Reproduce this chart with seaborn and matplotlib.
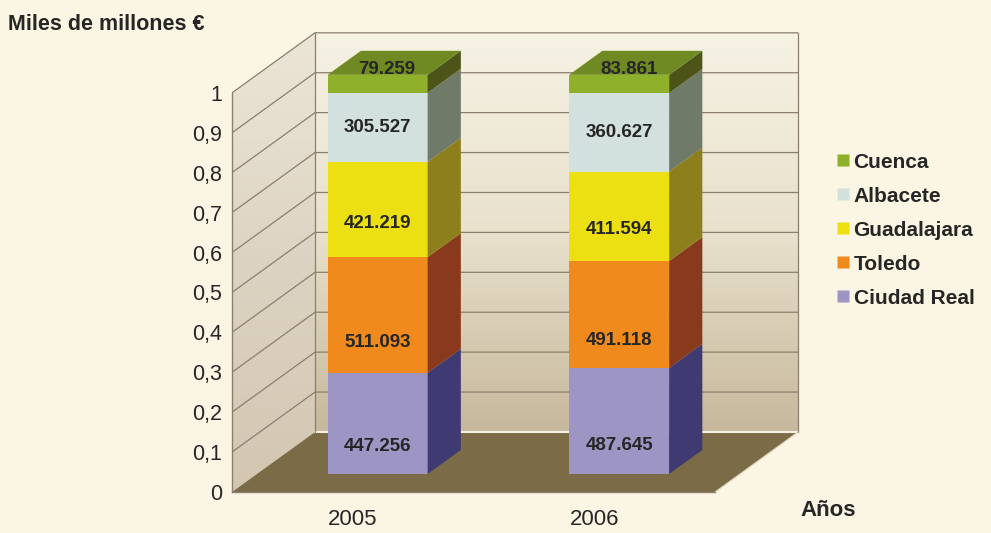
import numpy as np
import pandas as pd
import matplotlib.pyplot as plt
import seaborn as sns
from matplotlib.patches import Polygon
from matplotlib.lines import Line2D

# DATOS
anios = ['2005', '2006']
provincias = ['Ciudad Real', 'Toledo', 'Guadalajara', 'Albacete', 'Cuenca']
ciudad_real = [447.256, 487.645]
toledo = [511.093, 491.118]
guadalajara = [421.219, 411.594]
albacete = [305.527, 360.627]
cuenca = [79.259, 83.861]
etiquetas = ['447.256', '487.645', '511.093', '491.118', '421.219', '411.594',
             '305.527', '360.627', '79.259', '83.861']
y_ticks = [0, 0.1, 0.2, 0.3, 0.4, 0.5, 0.6, 0.7, 0.8, 0.9, 1]
y_labels = ['0', '0,1', '0,2', '0,3', '0,4', '0,5', '0,6', '0,7', '0,8', '0,9', '1']

# Colores (frente, lateral, tapa)
frente = {'Ciudad Real': '#9d95c4', 'Toledo': '#f08a1c', 'Guadalajara': '#ede012',
          'Albacete': '#d2e1dd', 'Cuenca': '#8fb02a'}
lateral = {'Ciudad Real': '#3f3a72', 'Toledo': '#8a3a1c', 'Guadalajara': '#8d7f1c',
           'Albacete': '#6f7a68', 'Cuenca': '#4c5418'}
tapa = '#6f8a22'
fondo = '#fbf6e3'
# posición del texto dentro de cada tramo
pos_texto = {'Ciudad Real': 0.27, 'Toledo': 0.26, 'Guadalajara': 0.35, 'Albacete': 0.5}

valores = {'Ciudad Real': ciudad_real, 'Toledo': toledo, 'Guadalajara': guadalajara,
           'Albacete': albacete, 'Cuenca': cuenca}
filas = []
for p in provincias:
    for a, v in zip(anios, valores[p]):
        filas.append({'anio': a, 'provincia': p, 'valor': v})
df = pd.DataFrame(filas)
df['cuota'] = df['valor'] / df.groupby('anio')['valor'].transform('sum')
df['base'] = df.groupby('anio')['cuota'].cumsum() - df['cuota']
df['etiqueta'] = [etiquetas[provincias.index(p) * 2 + anios.index(a)]
                  for p, a in zip(df['provincia'], df['anio'])]

# Style
sns.set_style('white')
plt.rcParams['font.family'] = ['Liberation Sans', 'DejaVu Sans']
texto = '#262626'

fig = plt.figure(figsize=(9.91, 5.33), dpi=100, facecolor=fondo)
ax = fig.add_axes([232 / 991, 41 / 533, 603.75 / 991, 479 / 533])
ax.set_facecolor('none')

# profundidad del "3D"
DX, DY = 83 / 241.5, 60 / 399
x0, x1 = -0.5, 1.5

# Pared del fondo con degradado
grad = np.linspace(0, 1, 256).reshape(-1, 1)
ax.imshow(grad, extent=[x0 + DX, x1 + DX, DY, 1 + DY], origin='lower', aspect='auto',
          cmap=sns.blend_palette(['#c6b89c', '#e9e1cc', '#f6f2e4'], as_cmap=True), zorder=0)
# Pared lateral
pared = Polygon([(x0, 0), (x0, 1), (x0 + DX, 1 + DY), (x0 + DX, DY)], closed=True,
                facecolor='none', edgecolor='none')
ax.add_patch(pared)
img = ax.imshow(grad, extent=[x0, x0 + DX, 0, 1 + DY], origin='lower', aspect='auto',
                cmap=sns.blend_palette(['#d3c7b2', '#ddd3c2', '#ece6d8'], as_cmap=True), zorder=0)
img.set_clip_path(pared)
# Suelo
ax.add_patch(Polygon([(x0, 0), (x1, 0), (x1 + DX, DY), (x0 + DX, DY)], closed=True,
                     facecolor='#7b6b46', edgecolor='none', zorder=1))
ax.plot([x0 + DX, x1 + DX], [DY, DY], color='#f4f0e6', lw=1.5, zorder=1.2)

# Rejilla
gcol = '#8c7e6e'
for t in y_ticks[1:]:
    ax.plot([x0, x0 + DX, x1 + DX], [t, t + DY, t + DY], color=gcol, lw=0.9, zorder=1.5)
ax.plot([x0 + DX, x0 + DX], [DY, 1 + DY], color=gcol, lw=0.9, zorder=1.5)
ax.plot([x1 + DX, x1 + DX], [DY, 1 + DY], color=gcol, lw=0.9, zorder=1.5)
ax.plot([x1, x1 + DX], [0, DY], color='#d9d0bc', lw=0.8, zorder=1.5)

# Barras apiladas
ancho = 0.414
fx, fy = 0.3 * DX, 0.3 * DY     # desplazamiento de la cara frontal
bx, by = 0.4 * DX, 0.4 * DY     # fondo de la barra
for p in provincias:
    sub = df[df['provincia'] == p]
    n0 = len(ax.patches)
    sns.barplot(data=sub, x='anio', y='cuota', order=anios, bottom=sub['base'].values,
                width=ancho, color=frente[p], saturation=1, errorbar=None,
                linewidth=0, ax=ax, zorder=3)
    for rect, (_, fila) in zip(ax.patches[n0:], sub.iterrows()):
        rect.set_x(rect.get_x() + fx)
        rect.set_y(rect.get_y() + fy)
        rect.set_zorder(3)
        xa, xb = rect.get_x(), rect.get_x() + rect.get_width()
        ya, yb = rect.get_y(), rect.get_y() + rect.get_height()
        ax.add_patch(Polygon([(xb, ya), (xb + bx, ya + by), (xb + bx, yb + by), (xb, yb)],
                             closed=True, facecolor=lateral[p], edgecolor='none', zorder=3))
        if p == 'Cuenca':
            ax.add_patch(Polygon([(xa, yb), (xb, yb), (xb + bx, yb + by), (xa + bx, yb + by)],
                                 closed=True, facecolor=tapa, edgecolor='none', zorder=3))
            ax.text((xa + xb) / 2 + 0.04, yb + 0.014, fila['etiqueta'], ha='center',
                    va='center', fontsize=13.5, fontweight='bold', color=texto, zorder=4)
        else:
            ax.text((xa + xb) / 2, ya + pos_texto[p] * (yb - ya), fila['etiqueta'],
                    ha='center', va='center', fontsize=13.5, fontweight='bold',
                    color=texto, zorder=4)

# Ejes
ax.set_xlim(-0.5, 2.0)
ax.set_ylim(0, 1.2)
ax.set_xlabel('')
ax.set_ylabel('')
for s in ['top', 'right']:
    ax.spines[s].set_visible(False)
ax.spines['left'].set_bounds(0, 1)
ax.spines['bottom'].set_bounds(x0, x1)
for s in ['left', 'bottom']:
    ax.spines[s].set_color('#8c7e6e')
    ax.spines[s].set_linewidth(1)
ax.set_yticks(y_ticks)
ax.set_yticklabels(y_labels, fontsize=15.5, color=texto)
ax.set_xticks([0, 1])
ax.set_xticklabels(anios, fontsize=16, color=texto)
ax.set_xticks([x0, 0.5, x1], minor=True)
ax.tick_params(axis='y', length=6, color='#8c7e6e', pad=1)
ax.tick_params(axis='x', which='major', length=0, pad=12)
ax.tick_params(axis='x', which='minor', length=7, color='#d9d0bc')

# Leyenda
orden = ['Cuenca', 'Albacete', 'Guadalajara', 'Toledo', 'Ciudad Real']
handles = [Line2D([], [], marker='s', linestyle='none', markersize=9,
                  markerfacecolor=frente[p], markeredgecolor='none') for p in orden]
fig.legend(handles, orden, loc='upper left', bbox_to_anchor=(816 / 991, 1 - 134 / 533),
           frameon=False, prop={'weight': 'bold', 'size': 15}, handletextpad=0.1,
           handlelength=0.8, labelspacing=0.72, labelcolor=texto)

fig.text(8 / 991, 1 - 25 / 533, 'Miles de millones €', fontsize=15.5, fontweight='bold',
         color=texto, va='center', ha='left')
fig.text(828 / 991, 1 - 510 / 533, 'Años', fontsize=16, fontweight='bold',
         color=texto, va='center', ha='center')

plt.savefig('out.png', dpi=100, facecolor=fondo)
